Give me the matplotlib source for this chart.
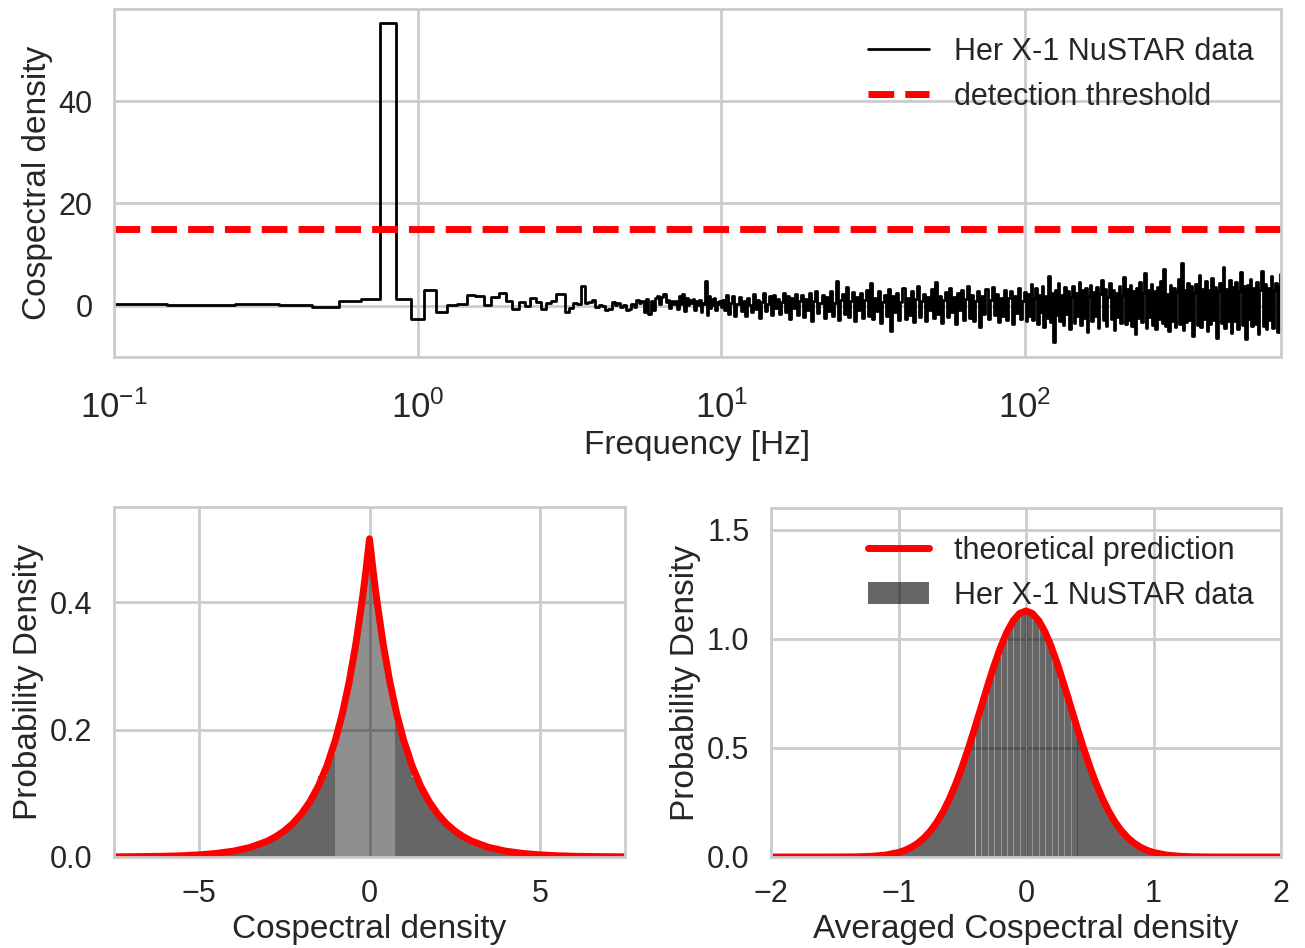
import numpy as np
import matplotlib
matplotlib.use("Agg")
import matplotlib.pyplot as plt
import seaborn as sns

sns.set_theme(style="whitegrid", context="poster")
plt.rcParams["font.family"] = ["Liberation Sans", "DejaVu Sans"]
plt.rcParams["mathtext.fontset"] = "custom"
plt.rcParams["mathtext.rm"] = "Liberation Sans"
plt.rcParams["mathtext.it"] = "Liberation Sans:italic"
plt.rcParams["mathtext.bf"] = "Liberation Sans:bold"
plt.rcParams["axes.labelsize"] = 24
plt.rcParams["xtick.labelsize"] = 22
plt.rcParams["ytick.labelsize"] = 22
plt.rcParams["legend.fontsize"] = 22
plt.rcParams["grid.linewidth"] = 2
plt.rcParams["axes.linewidth"] = 2

# --- top panel: cospectrum (0.1 Hz resolution up to 10 Hz, decimated above) ---
freq_low = np.round(np.arange(1, 101) * 0.1, 1)
cosp_low = [0.33, 0.15, 0.3, 0.1, -0.2, 1.0, 1.4, 55.2, 1.4, -2.6,
            3.0, -1.2, 0.25, 0.4, 2.2, 2.0, 0.2, 1.8, 2.5, 0.85,
            -0.65, 0.65, 0.0, 1.5, 0.7, -0.6, 0.6, 0.9, 2.4, 2.3,
            -1.3, -0.5, 0.5, 0.4, 3.9, 0.6, 0.8, 1.2, -0.3, 0.2,
            0.0, -0.8, -0.6, 0.8, 0.2, 0.5, -0.2, 0.1, -0.9, -0.6,
            0.3, -0.2, 1.2, 0.5, 1.0, -1.2, 1.3, -1.5, 0.9, -0.8,
            1.6, 2.0, 0.4, 1.8, 2.3, 0.8, 1.2, -0.4, 0.9, 0.3,
            1.0, -0.6, 1.9, 0.4, 2.3, -1.0, 1.5, 0.2, 1.1, 0.5,
            1.4, -0.8, 0.9, 0.2, 1.1, -1.2, 0.6, 0.3, 4.8, -1.8,
            2.0, -0.5, 1.3, 0.1, 1.5, -0.9, 0.8, 0.4, 0.9, -0.3]

freq_mid = np.geomspace(10, 100, 151)[1:]
cosp_mid = [1.2, -0.8, 2.1, -1.5, 0.6, 2.0, -1.9, 0.3, 1.8, -1.1,
            0.9, -2.0, 1.5, 0.2, -1.3, 2.3, -0.7, 1.1, -2.4, 0.8,
            2.5, -1.0, 0.4, 1.9, -1.8, 2.2, -0.5, 1.3, -1.6, 0.7,
            2.6, -1.2, 2.0, -2.6, 1.6, -0.4, 2.4, -1.7, 0.9, 2.2,
            -2.1, 1.4, -0.9, 2.6, -2.9, 1.0, 2.8, -1.4, 0.5, 2.1,
            -2.3, 1.7, -1.0, 2.9, -2.0, 0.6, 4.8, -2.7, 1.2, 2.4,
            -1.5, 3.6, -2.2, 0.9, 2.7, -3.0, 1.8, -0.8, 2.5, -2.4,
            1.1, 3.0, -1.9, 4.5, -2.6, 1.5, -1.1, 2.8, -3.3, 0.7,
            2.2, -2.0, 3.3, -5.0, 1.9, -1.2, 2.6, -2.8, 0.8, 3.4,
            -2.5, 1.6, -1.7, 2.9, -3.1, 1.3, 3.8, -2.2, 0.9, 2.4,
            -2.9, 1.8, -0.9, 3.2, -2.4, 4.6, -1.6, 2.0, -3.4, 1.1,
            2.7, -2.1, 3.5, -1.3, 1.7, -3.6, 2.5, -0.8, 3.0, -2.7,
            1.4, 3.9, -2.3, 2.2, -3.0, 0.9, 2.8, -4.1, 1.9, -1.5,
            3.3, -2.6, 1.2, 3.7, -1.8, 2.4, -3.2, 1.6, -2.0, 3.1,
            -2.8, 1.5, 2.9, -3.5, 2.0, -1.4, 3.4, -2.6, 1.0, 2.7]

freq_high = np.geomspace(100, 697, 161)[1:]
cosp_high = [-3.0, 2.4, -1.9, 4.2, -2.7, 1.6, 3.5, -3.6, 2.1, -1.2,
             3.8, -4.2, 1.9, -2.3, 5.8, -3.1, 2.6, -7.0, 3.0, -1.8,
             4.4, -2.9, 2.2, -3.8, 3.6, -1.5, 2.8, -4.5, 1.7, 3.9,
             -3.3, 2.5, -2.0, 4.6, -3.7, 3.1, -2.4, 3.4, -5.2, 2.0,
             4.0, -3.0, 2.7, -1.9, 3.7, -4.3, 2.3, 5.1, -2.8, 3.2,
             -3.9, 1.8, 4.4, -2.5, 3.0, -4.8, 2.6, -2.1, 3.9, -3.4,
             2.2, 5.6, -3.6, 3.3, -2.7, 4.1, -4.0, 2.8, -5.5, 3.5,
             -2.4, 4.7, -3.1, 2.5, 6.4, -4.4, 3.0, -2.2, 4.3, -3.8,
             2.9, -4.6, 3.6, -2.6, 4.9, -3.3, 7.2, -3.9, 2.4, -5.0,
             4.1, -2.9, 3.4, -4.1, 2.7, 5.3, -3.5, 8.4, -4.7, 3.1,
             -3.2, 4.5, -2.8, 3.8, -5.8, 2.6, 4.2, -3.7, 6.0, -4.2,
             3.3, -2.5, 4.8, -4.9, 3.0, -3.6, 5.5, -2.7, 3.7, -6.2,
             2.8, 4.4, -3.4, 7.6, -4.3, 3.2, -2.9, 5.0, -5.3, 3.6,
             -3.0, 4.6, -4.5, 2.9, 6.6, -3.8, 3.9, -6.5, 4.0, -2.6,
             5.2, -4.0, 3.4, -3.5, 4.7, -5.6, 3.1, 6.8, -3.9, 4.2,
             -4.6, 3.5, -2.8, 5.9, -4.4, 3.0, 4.5, -5.1, 3.8, 6.2]

threshold = 15.1

# --- bottom left: single cospectrum distribution (Laplace) ---
lap_edges = np.concatenate([np.linspace(-7.5, -1.25, 26),
                            np.linspace(-1.0, 0.875, 16),
                            np.linspace(1.0, 7.5, 27)])
lap_hist = [0.0003, 0.0004, 0.0005, 0.0007, 0.0009, 0.0011, 0.0014, 0.0018, 0.0023, 0.0030,
            0.0038, 0.0049, 0.0063, 0.0082, 0.0103, 0.0135, 0.0171, 0.0221, 0.0282, 0.0364,
            0.0467, 0.0597, 0.0771, 0.0985, 0.1270, 0.1625,
            0.1962, 0.2217, 0.2519, 0.2848, 0.3233, 0.3657, 0.4152, 0.4693,
            0.4706, 0.4141, 0.3665, 0.3226, 0.2853, 0.2512, 0.2223, 0.1955,
            0.1631, 0.1265, 0.0989, 0.0768, 0.0601, 0.0465, 0.0362, 0.0284, 0.0219, 0.0173,
            0.0133, 0.0105, 0.0080, 0.0064, 0.0049, 0.0038, 0.0030, 0.0023, 0.0018, 0.0014,
            0.0011, 0.0009, 0.0007, 0.0005, 0.0004, 0.0003]
lap_x = [-7.5, -7, -6.5, -6, -5.5, -5, -4.5, -4, -3.5, -3, -2.75, -2.5, -2.25, -2,
         -1.75, -1.5, -1.25, -1, -0.8, -0.6, -0.4, -0.2, -0.1, 0,
         0.1, 0.2, 0.4, 0.6, 0.8, 1, 1.25, 1.5, 1.75, 2, 2.25, 2.5, 2.75, 3,
         3.5, 4, 4.5, 5, 5.5, 6, 6.5, 7, 7.5]
lap_pdf = [0.0003, 0.0005, 0.0008, 0.0012, 0.0020, 0.0034, 0.0056, 0.0092, 0.0151, 0.0249,
           0.0320, 0.0410, 0.0527, 0.0677, 0.0869, 0.1116, 0.1433, 0.1839, 0.2247, 0.2744,
           0.3352, 0.4094, 0.4524, 0.5,
           0.4524, 0.4094, 0.3352, 0.2744, 0.2247, 0.1839, 0.1433, 0.1116, 0.0869, 0.0677,
           0.0527, 0.0410, 0.0320, 0.0249, 0.0151, 0.0092, 0.0056, 0.0034, 0.0020, 0.0012,
           0.0008, 0.0005, 0.0003]

# --- bottom right: averaged cospectrum distribution (Gaussian) ---
avg_edges = np.linspace(-2, 2, 81)
avg_hist = [0, 0, 0, 0, 0, 0, 0.0001, 0, 0.0002, 0.0001,
            0.0003, 0.0004, 0.0006, 0.0011, 0.0016, 0.0029, 0.0044, 0.0073, 0.0108, 0.0172,
            0.0246, 0.0374, 0.0527, 0.0745, 0.1012, 0.1386, 0.1811, 0.2372, 0.2998, 0.3766,
            0.4563, 0.5497, 0.6412, 0.7405, 0.8318, 0.9232, 0.9961, 1.0621, 1.1008, 1.1236,
            1.1262, 1.1015, 1.0594, 0.9995, 0.9189, 0.8357, 0.7372, 0.6449, 0.5462, 0.4597,
            0.3735, 0.3021, 0.2348, 0.1829, 0.1374, 0.1025, 0.0736, 0.0534, 0.0366, 0.0252,
            0.0168, 0.0111, 0.0070, 0.0046, 0.0027, 0.0018, 0.0009, 0.0006, 0.0003, 0.0002,
            0.0001, 0.0001, 0, 0.0001, 0, 0, 0, 0, 0, 0]
gauss_x = np.concatenate([[-2.0, -1.8, -1.6, -1.4, -1.3, -1.2, -1.1],
                          np.linspace(-1, 1, 41),
                          [1.1, 1.2, 1.3, 1.4, 1.6, 1.8, 2.0]])
gauss_pdf = [0, 0, 0, 0.0004, 0.0013, 0.0036, 0.0089,
             0.0207, 0.0305, 0.0442, 0.0627, 0.0872, 0.1189, 0.1589, 0.2081, 0.2673, 0.3364,
             0.4150, 0.5018, 0.5948, 0.6910, 0.7870, 0.8785, 0.9612, 1.0309, 1.0838, 1.1168,
             1.128,
             1.1168, 1.0838, 1.0309, 0.9612, 0.8785, 0.7870, 0.6910, 0.5948, 0.5018, 0.4150,
             0.3364, 0.2673, 0.2081, 0.1589, 0.1189, 0.0872, 0.0627, 0.0442, 0.0305, 0.0207,
             0.0089, 0.0036, 0.0013, 0.0004, 0, 0, 0]

W, H = 1305, 948
fig = plt.figure(figsize=(W / 100, H / 100), dpi=100)
ax1 = fig.add_axes([114 / W, 1 - 357 / H, (1281 - 114) / W, (357 - 9) / H])
ax2 = fig.add_axes([114 / W, 1 - 857 / H, (625 - 114) / W, (857 - 507) / H])
ax3 = fig.add_axes([771 / W, 1 - 857 / H, (1281 - 771) / W, (857 - 508) / H])

freq = np.concatenate([freq_low, freq_mid, freq_high])
cosp = np.concatenate([cosp_low, cosp_mid, cosp_high])
ax1.plot(freq, cosp, color="#000000", lw=2, drawstyle="steps-mid",
         label="Her X-1 NuSTAR data")
ax1.axhline(threshold, color="#ff0000", lw=5, ls="--", label="detection threshold")
ax1.set_xscale("log")
ax1.set_xlim(0.1, 697)
ax1.set_ylim(-10, 58)
ax1.set_yticks([0, 20, 40])
ax1.tick_params(axis="x", labelsize=25, pad=12)
ax1.set_xlabel("Frequency [Hz]")
ax1.set_ylabel("Cospectral density")
ax1.legend(loc="upper right", frameon=False)

# single cospectrum histogram
lefts = lap_edges[:-1]
lap_colors = [(0, 0, 0, 0.44) if -1.0 <= l < 0.75 else (0, 0, 0, 0.6) for l in lefts]
ax2.bar(lefts, lap_hist, width=np.diff(lap_edges), align="edge",
        color=lap_colors, linewidth=0)
ax2.plot(lap_x, lap_pdf, color="#ff0000", lw=5)
ax2.set_xlim(-7.5, 7.5)
ax2.set_ylim(0, 0.55)
ax2.set_xticks([-5, 0, 5])
ax2.set_yticks([0, 0.2, 0.4])
ax2.set_xlabel("Cospectral density")
ax2.set_ylabel("Probability Density")

# averaged cospectrum histogram
alefts = avg_edges[:-1]
centres = alefts + 0.025
edge_cols = [(1, 1, 1, 0.15) if abs(c) < 0.4 else (1, 1, 1, 0) for c in centres]
ax3.bar(alefts, avg_hist, width=np.diff(avg_edges), align="edge",
        color=(0, 0, 0, 0.6), edgecolor=edge_cols, linewidth=0.8,
        label="Her X-1 NuSTAR data")
ax3.plot(gauss_x, gauss_pdf, color="#ff0000", lw=5, label="theoretical prediction")
ax3.set_xlim(-2, 2)
ax3.set_ylim(0, 1.6)
ax3.set_xticks([-2, -1, 0, 1, 2])
ax3.set_yticks([0, 0.5, 1.0, 1.5])
ax3.set_xlabel("Averaged Cospectral density")
ax3.set_ylabel("Probability Density")
ax3.legend(loc="upper right", frameon=False)

fig.savefig("out.png", dpi=100)
